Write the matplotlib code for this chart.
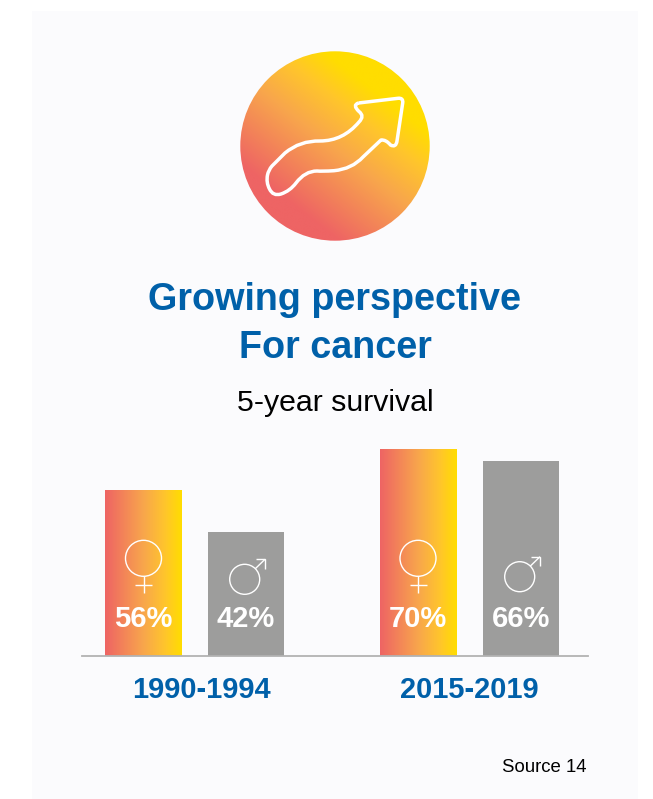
import matplotlib.pyplot as plt
import numpy as np
from matplotlib.colors import LinearSegmentedColormap
from matplotlib.patches import Circle, PathPatch, Rectangle
from matplotlib.path import Path

W, H = 653, 799

periods = ['1990-1994', '2015-2019']
women = [56, 70]
men = [42, 66]

blue = '#0060A9'
grey = '#9D9D9C'
warm = LinearSegmentedColormap.from_list(
    'warm', [(0, '#EE6464'), (0.5, '#F8A64C'), (0.78, '#FFC52C'), (1, '#FFDD00')])

plt.rcParams['font.family'] = ['Liberation Sans', 'DejaVu Sans']

fig = plt.figure(figsize=(W / 100, H / 100), dpi=100, facecolor='white')


def pixel_axes(zorder):
    ax = fig.add_axes((0, 0, 1, 1), zorder=zorder)
    ax.set_xlim(0, W)
    ax.set_ylim(H, 0)
    ax.axis('off')
    return ax


back = pixel_axes(0)
front = pixel_axes(2)

back.add_patch(Rectangle((32, 11), 606, 788, facecolor='#FBFBFD', edgecolor='none'))

# Disc with a diagonal gradient, red at the lower left
cx, cy, r = 335, 146, 94.7
yy, xx = np.mgrid[-1:1:300j, -1:1:300j]
angle = np.radians(52)
diagonal = (xx * np.cos(angle) - yy * np.sin(angle)) / 2 + 0.5
disc = back.imshow(diagonal, extent=(cx - r, cx + r, cy + r, cy - r), origin='upper', cmap=warm,
                   vmin=0.12, vmax=0.86, aspect='auto', zorder=1)
disc.set_clip_path(Circle((cx, cy), r, transform=back.transData))
back.set_xlim(0, W)
back.set_ylim(H, 0)

# Arrow outline on the disc: straight edges plus quadratic corners and bends
arrow_verts = [(358.5, 103), (398, 98.3)]
arrow_codes = [Path.MOVETO, Path.LINETO]
for ctrl, end in [((403.5, 97.6), (402.7, 103))]:
    arrow_verts += [ctrl, end]
    arrow_codes += [Path.CURVE3, Path.CURVE3]
arrow_verts.append((397, 141))
arrow_codes.append(Path.LINETO)
for ctrl, end in [((396, 148), (390.5, 145)), ((386, 139.5), (381, 140))]:
    arrow_verts += [ctrl, end]
    arrow_codes += [Path.CURVE3, Path.CURVE3]
arrow_verts.append((363, 157))
arrow_codes.append(Path.LINETO)
for ctrl, end in [((352, 169), (334, 170.7)), ((322, 171.5), (317, 171)), ((305, 171), (296, 183)),
                  ((290, 191), (281, 194)), ((273, 196.5), (269.5, 189)), ((266, 182.5), (267.5, 175)),
                  ((268.5, 170), (272, 166))]:
    arrow_verts += [ctrl, end]
    arrow_codes += [Path.CURVE3, Path.CURVE3]
arrow_verts.append((285, 153))
arrow_codes.append(Path.LINETO)
for ctrl, end in [((300, 140.5), (320, 141)), ((343, 141), (359, 122)), ((365, 116), (359, 111.5)),
                  ((352, 105), (358.5, 103))]:
    arrow_verts += [ctrl, end]
    arrow_codes += [Path.CURVE3, Path.CURVE3]
back.add_patch(PathPatch(Path(arrow_verts, arrow_codes), facecolor='none', edgecolor='white', lw=2.5,
                         joinstyle='round', zorder=2))

back.text(335, 299.5, 'Growing perspective', ha='center', va='center', fontsize=27.2, fontweight='bold', color=blue)
back.text(335, 348, 'For cancer', ha='center', va='center', fontsize=27.2, fontweight='bold', color=blue)
back.text(335, 403, '5-year survival', ha='center', va='center', fontsize=21.8, color='black')
back.text(587, 768, 'Source 14', ha='right', va='center', fontsize=13.4, color='black')

# Bars sit on their own axes, with the percentage scale on y
left, right, base, y_top = 82, 588, 656, 440
ax = fig.add_axes((left / W, (H - base) / H, (right - left) / W, (base - y_top) / H), zorder=1)
ax.patch.set_alpha(0)
bar_width = 76.5
women_x = [143.5, 418]
men_x = [246, 521]
women_bars = ax.bar(women_x, women, width=bar_width, color='none')
ax.bar(men_x, men, width=bar_width, color=grey)
ramp = np.linspace(0, 1, 256).reshape(1, -1)
for bar in women_bars:
    x0, w, h = bar.get_x(), bar.get_width(), bar.get_height()
    ax.imshow(ramp, extent=(x0, x0 + w, 0, h), cmap=warm, aspect='auto')
ax.set_xlim(left, right)
ax.set_ylim(0, (base - y_top) / 2.955)
for side in ['top', 'left', 'right']:
    ax.spines[side].set_visible(False)
ax.spines['bottom'].set_color('#B2B2B2')
ax.spines['bottom'].set_linewidth(1.3)
ax.set_yticks([])
ax.set_xticks([201, 469], periods, fontsize=20.9, fontweight='bold', color=blue)
ax.tick_params(axis='x', length=0, pad=14.5)


def sym_line(xs, ys):
    front.plot(xs, ys, color='white', lw=1.0, solid_capstyle='butt', solid_joinstyle='miter')


# Gender symbols and value labels
for x, v in zip(women_x, women):
    sx, sy = x, 558.3
    front.add_patch(Circle((sx, sy), 18, facecolor='none', edgecolor='white', lw=1.0))
    sym_line([sx, sx], [sy + 18, sy + 34.5])
    sym_line([sx - 8.5, sx + 8.5], [sy + 26.5, sy + 26.5])
    front.text(x, 619, f'{v}%', ha='center', va='center', fontsize=21, fontweight='bold', color='white')

for x, v, sy in zip(men_x, men, [579.3, 576.7]):
    sx = x - 1.3
    front.add_patch(Circle((sx, sy), 15, facecolor='none', edgecolor='white', lw=1.0))
    sym_line([sx + 10.6, sx + 20.3], [sy - 10.6, sy - 20])
    sym_line([sx + 11, sx + 20.3, sx + 20.3], [sy - 20, sy - 20, sy - 10.5])
    front.text(x, 619, f'{v}%', ha='center', va='center', fontsize=21, fontweight='bold', color='white')

fig.savefig('out.png', dpi=100)
